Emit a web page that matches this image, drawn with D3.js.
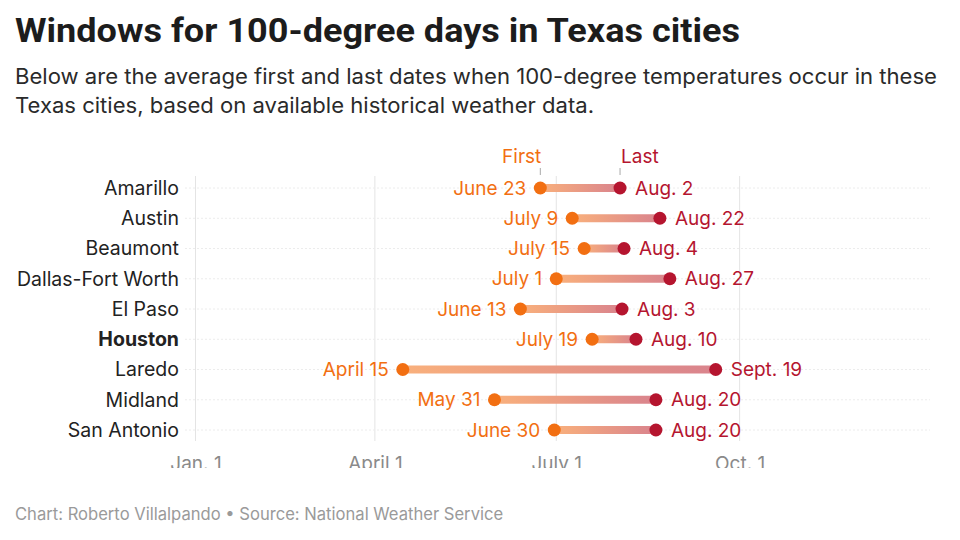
<!DOCTYPE html>
<html>
<head>
<meta charset="utf-8">
<script src="https://cdn.jsdelivr.net/npm/d3@7"></script>
<style>
  body { margin: 0; background: #fff; }
  svg { display: block; }
</style>
</head>
<body>
<svg id="chart" width="960" height="540"></svg>
<script>
const cities = ["Amarillo", "Austin", "Beaumont", "Dallas-Fort Worth", "El Paso", "Houston", "Laredo", "Midland", "San Antonio"];
const firstDates = ["2023-06-23", "2023-07-09", "2023-07-15", "2023-07-01", "2023-06-13", "2023-07-19", "2023-04-15", "2023-05-31", "2023-06-30"];
const lastDates  = ["2023-08-02", "2023-08-22", "2023-08-04", "2023-08-27", "2023-08-03", "2023-08-10", "2023-09-19", "2023-08-20", "2023-08-20"];
const firstLabels = ["June 23", "July 9", "July 15", "July 1", "June 13", "July 19", "April 15", "May 31", "June 30"];
const lastLabels  = ["Aug. 2", "Aug. 22", "Aug. 4", "Aug. 27", "Aug. 3", "Aug. 10", "Sept. 19", "Aug. 20", "Aug. 20"];
const tickDates = ["2023-01-01", "2023-04-01", "2023-07-01", "2023-10-01"];
const tickLabels = ["Jan. 1", "April 1", "July 1", "Oct. 1"];
const highlightCity = "Houston";

const parse = d3.utcParse("%Y-%m-%d");
const rows = cities.map((c, i) => ({
  city: c, first: parse(firstDates[i]), last: parse(lastDates[i]),
  fl: firstLabels[i], ll: lastLabels[i]
}));

const svg = d3.select("#chart");
const font = "Inter, 'Noto Sans', sans-serif";
const orange = "#f26f12";
const red = "#b5152f";

// Title & subtitle
svg.append("text").attr("x", 15).attr("y", 42)
  .attr("font-family", "Roboto, sans-serif").attr("font-weight", 700)
  .attr("font-size", 34).attr("fill", "#1c1c1c")
  .attr("textLength", 725).attr("lengthAdjust", "spacingAndGlyphs")
  .text("Windows for 100-degree days in Texas cities");
const sub = ["Below are the average first and last dates when 100-degree temperatures occur in these",
             "Texas cities, based on available historical weather data."];
const subLen = [922, 579];
sub.forEach((s, i) => {
  svg.append("text").attr("x", 15).attr("y", 84 + i * 29)
    .attr("font-family", font).attr("font-size", 21).attr("fill", "#2a2a2a")
    .attr("textLength", subLen[i]).attr("lengthAdjust", "spacingAndGlyphs")
    .text(s);
});

const x = d3.scaleUtc().domain([parse("2023-01-01"), parse("2024-01-01")]).range([195.5, 923]);
const y = d3.scalePoint().domain(cities).range([188, 430]);

// vertical grid
const ticks = tickDates.map(parse);
svg.append("g").selectAll("line").data(ticks).join("line")
  .attr("x1", d => x(d)).attr("x2", d => x(d))
  .attr("y1", 176).attr("y2", 441)
  .attr("stroke", "#e4e4e4").attr("stroke-width", 1);

// horizontal grid
svg.append("g").selectAll("line").data(cities).join("line")
  .attr("x1", 185).attr("x2", 930)
  .attr("y1", d => y(d)).attr("y2", d => y(d))
  .attr("stroke", "#ececec").attr("stroke-width", 1).attr("stroke-dasharray", "2,2");

// axis labels (clipped at bottom like reference)
const defs = svg.append("defs");
defs.append("clipPath").attr("id", "axclip").append("rect")
  .attr("x", 0).attr("y", 440).attr("width", 960).attr("height", 28);
const clipG = svg.append("g").attr("clip-path", "url(#axclip)");
const axis = d3.axisBottom(x).tickValues(ticks).tickFormat((d, i) => tickLabels[i]).tickSize(0).tickPadding(0);
const axg = clipG.append("g").attr("transform", "translate(0,470)");
axg.call(axis);
axg.select(".domain").remove();
axg.selectAll("text").attr("font-family", font).attr("font-size", 19).attr("fill", "#8a8a8a")
  .attr("dy", 0).attr("y", 0);

// city labels
svg.append("g").selectAll("text").data(rows).join("text")
  .attr("x", 179).attr("y", d => y(d.city)).attr("dy", "0.35em")
  .attr("text-anchor", "end").attr("font-family", font).attr("font-size", 19.5)
  .attr("font-weight", d => d.city === highlightCity ? 700 : 400)
  .attr("fill", "#222").text(d => d.city);

// gradient
const grad = defs.append("linearGradient").attr("id", "bargrad")
  .attr("x1", "0%").attr("x2", "100%").attr("y1", "0%").attr("y2", "0%");
grad.append("stop").attr("offset", "0%").attr("stop-color", "#f9b07c");
grad.append("stop").attr("offset", "100%").attr("stop-color", "#d9838d");

// bars
svg.append("g").selectAll("rect").data(rows).join("rect")
  .attr("x", d => x(d.first)).attr("width", d => x(d.last) - x(d.first))
  .attr("y", d => y(d.city) - 4).attr("height", 8)
  .attr("fill", "url(#bargrad)");

// dots
svg.append("g").selectAll("circle").data(rows).join("circle")
  .attr("cx", d => x(d.first)).attr("cy", d => y(d.city)).attr("r", 6.5).attr("fill", orange);
svg.append("g").selectAll("circle").data(rows).join("circle")
  .attr("cx", d => x(d.last)).attr("cy", d => y(d.city)).attr("r", 6.5).attr("fill", red);

// date labels
svg.append("g").selectAll("text").data(rows).join("text")
  .attr("x", d => x(d.first) - 14).attr("y", d => y(d.city)).attr("dy", "0.35em")
  .attr("text-anchor", "end").attr("font-family", font).attr("font-size", 19)
  .attr("fill", orange).text(d => d.fl);
svg.append("g").selectAll("text").data(rows).join("text")
  .attr("x", d => x(d.last) + 15).attr("y", d => y(d.city)).attr("dy", "0.35em")
  .attr("text-anchor", "start").attr("font-family", font).attr("font-size", 19)
  .attr("fill", red).text(d => d.ll);

// First / Last annotations
const r0 = rows[0];
svg.append("text").attr("x", x(r0.first) + 1).attr("y", 163).attr("text-anchor", "end")
  .attr("font-family", font).attr("font-size", 19).attr("fill", orange).text("First");
svg.append("line").attr("x1", x(r0.first)).attr("x2", x(r0.first)).attr("y1", 168).attr("y2", 175)
  .attr("stroke", "#aaa");
svg.append("text").attr("x", x(r0.last) + 1).attr("y", 163).attr("text-anchor", "start")
  .attr("font-family", font).attr("font-size", 19).attr("fill", red).text("Last");
svg.append("line").attr("x1", x(r0.last)).attr("x2", x(r0.last)).attr("y1", 168).attr("y2", 175)
  .attr("stroke", "#aaa");

// footer
svg.append("text").attr("x", 15).attr("y", 520)
  .attr("font-family", font).attr("font-size", 16.6).attr("fill", "#9a9a9a")
  .text("Chart: Roberto Villalpando \u2022 Source: National Weather Service");
</script>
</body>
</html>
